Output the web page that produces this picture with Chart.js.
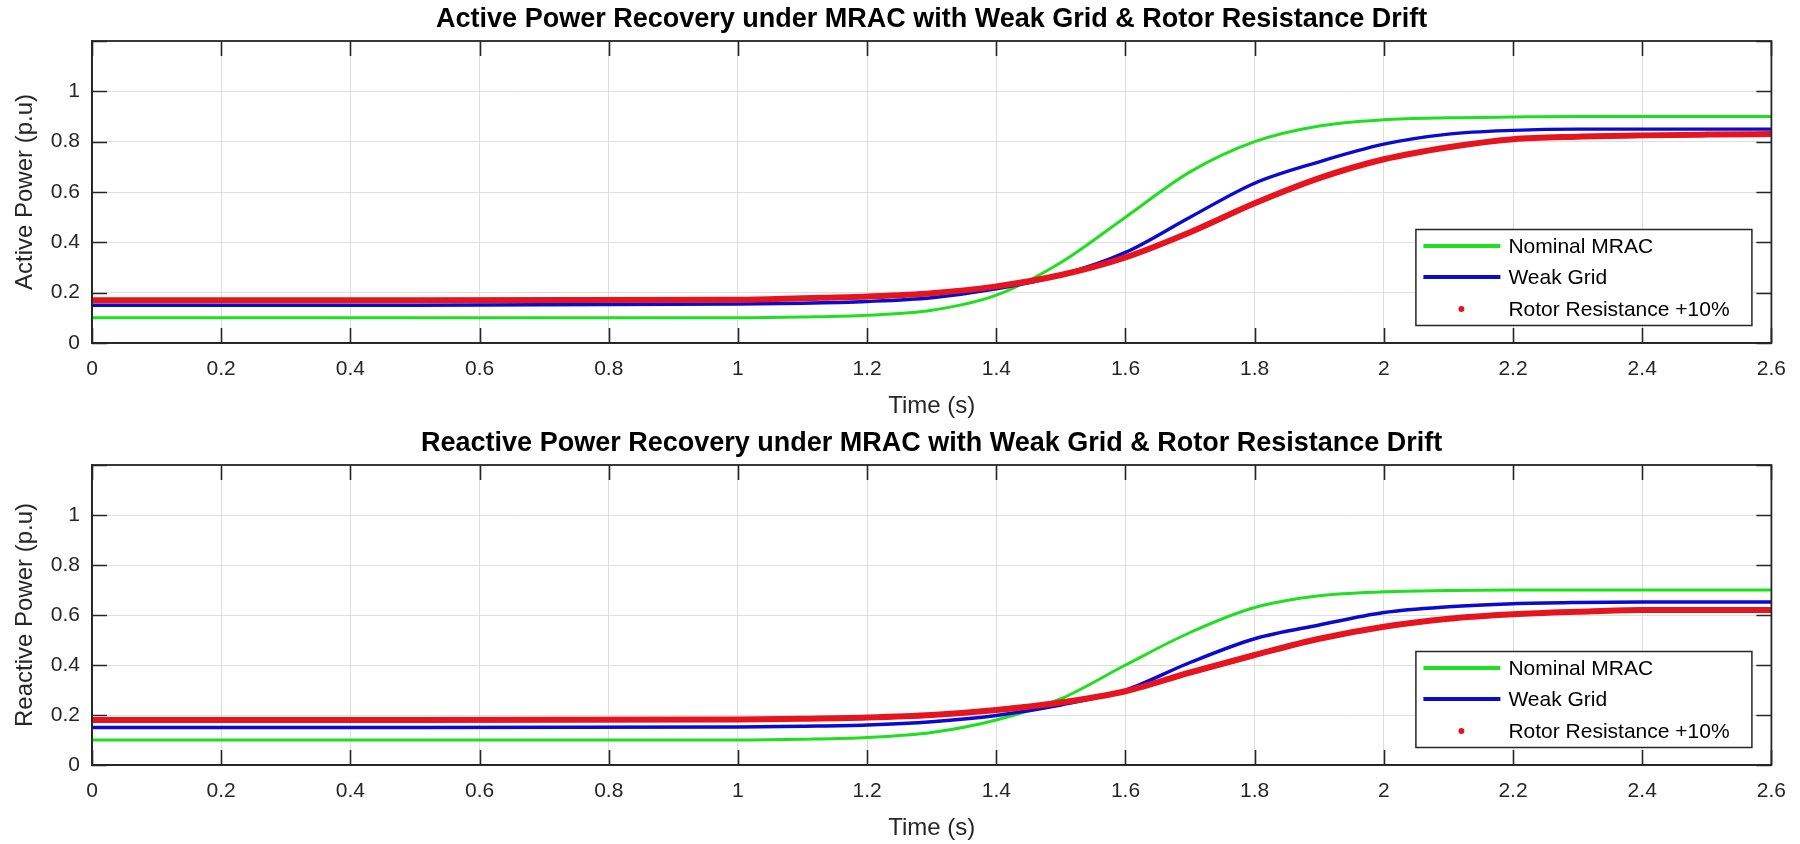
<!DOCTYPE html>
<html>
<head>
<meta charset="utf-8">
<script src="https://cdn.jsdelivr.net/npm/chart.js@4.4.1/dist/chart.umd.min.js"></script>
<style>
  html, body { margin: 0; padding: 0; background: #ffffff; }
  #wrap { position: relative; width: 1800px; height: 844px; background: #ffffff; }
  canvas { position: absolute; left: 0; }
</style>
</head>
<body>
<div id="wrap">
  <canvas id="c1" width="1800" height="422" style="top:0px"></canvas>
  <canvas id="c2" width="1800" height="422" style="top:422px"></canvas>
</div>
<script>
// ---------------- data ----------------
const timeValues = [0, 0.5, 1.0, 1.1, 1.2, 1.3, 1.4, 1.5, 1.6, 1.7, 1.8, 1.9, 2.0, 2.1, 2.2, 2.3, 2.4, 2.5, 2.6];

const activeNominal = [0.10, 0.10, 0.10, 0.103, 0.11, 0.13, 0.19, 0.32, 0.50, 0.68, 0.80, 0.862, 0.887, 0.895, 0.898, 0.90, 0.90, 0.90, 0.90];
const activeWeak    = [0.15, 0.15, 0.155, 0.158, 0.165, 0.18, 0.215, 0.27, 0.36, 0.50, 0.635, 0.72, 0.79, 0.83, 0.845, 0.85, 0.85, 0.85, 0.85];
const activeRotor   = [0.17, 0.17, 0.172, 0.178, 0.185, 0.198, 0.225, 0.27, 0.34, 0.44, 0.555, 0.655, 0.73, 0.778, 0.81, 0.82, 0.825, 0.828, 0.83];

const reactiveNominal = [0.10, 0.10, 0.10, 0.103, 0.11, 0.13, 0.18, 0.265, 0.40, 0.53, 0.63, 0.677, 0.693, 0.698, 0.70, 0.70, 0.70, 0.70, 0.70];
const reactiveWeak    = [0.15, 0.15, 0.152, 0.155, 0.16, 0.173, 0.198, 0.24, 0.30, 0.41, 0.505, 0.56, 0.61, 0.633, 0.645, 0.65, 0.652, 0.652, 0.652];
const reactiveRotor   = [0.18, 0.18, 0.182, 0.185, 0.19, 0.20, 0.22, 0.25, 0.295, 0.37, 0.44, 0.505, 0.553, 0.585, 0.603, 0.613, 0.62, 0.62, 0.62];

const seriesNames = ['Nominal MRAC', 'Weak Grid', 'Rotor Resistance +10%'];
const xTickLabels = ['0', '0.2', '0.4', '0.6', '0.8', '1', '1.2', '1.4', '1.6', '1.8', '2', '2.2', '2.4', '2.6'];
const yTickLabels = ['0', '0.2', '0.4', '0.6', '0.8', '1', ''];

const chartTitles = [
  'Active Power Recovery under MRAC with Weak Grid & Rotor Resistance Drift',
  'Reactive Power Recovery under MRAC with Weak Grid & Rotor Resistance Drift'
];
const yAxisTitles = ['Active Power (p.u)', 'Reactive Power (p.u)'];
const xAxisTitle = 'Time (s)';

// ---------------- styling ----------------
const FONT = "'Liberation Sans', Arial, Helvetica, sans-serif";
const AXIS_COLOR = '#262626';
const GRID_COLOR = '#dedede';
const seriesColors = ['#1fe01f', '#0a0ad0', '#e5141e'];
const seriesWidths = [3, 3.4, 6];
const legendWidths = [4, 4, 0];

Chart.defaults.font.family = FONT;
Chart.defaults.color = AXIS_COLOR;

function toPoints(arr) { return timeValues.map((t, i) => ({ x: t, y: arr[i] })); }

// inward tick marks + full box
const boxTicksPlugin = {
  id: 'boxTicks',
  afterDraw(chart) {
    const { ctx, chartArea: a } = chart;
    const xs = chart.scales.x, ys = chart.scales.y;
    const L = 15;
    ctx.save();
    ctx.strokeStyle = AXIS_COLOR;
    ctx.lineWidth = 1.6;
    ctx.beginPath();
    xs.ticks.forEach(t => {
      const px = Math.round(xs.getPixelForValue(t.value)) + 0.5;
      ctx.moveTo(px, a.bottom); ctx.lineTo(px, a.bottom - L);
      ctx.moveTo(px, a.top); ctx.lineTo(px, a.top + L);
    });
    ys.ticks.forEach(t => {
      const py = Math.round(ys.getPixelForValue(t.value)) + 0.5;
      ctx.moveTo(a.left, py); ctx.lineTo(a.left + L, py);
      ctx.moveTo(a.right, py); ctx.lineTo(a.right - L, py);
    });
    ctx.stroke();
    ctx.lineWidth = 1.8;
    ctx.strokeRect(a.left, a.top, a.right - a.left, a.bottom - a.top);
    ctx.restore();
  }
};

// MATLAB-like legend box (lower right, inside axes)
const legendPlugin = {
  id: 'mLegend',
  afterDraw(chart) {
    const { ctx, chartArea: a } = chart;
    const w = 336, h = 96;
    const x0 = a.right - 20 - w, y0 = a.bottom - 18 - h;
    ctx.save();
    ctx.fillStyle = '#ffffff';
    ctx.fillRect(x0, y0, w, h);
    ctx.strokeStyle = AXIS_COLOR;
    ctx.lineWidth = 1.5;
    ctx.strokeRect(x0 + 0.5, y0 + 0.5, w, h);
    const rows = [17, 48, 80];
    chart.data.datasets.forEach((ds, i) => {
      const y = y0 + rows[i];
      if (ds.legendMarker === 'dot') {
        ctx.fillStyle = ds.borderColor;
        ctx.beginPath();
        ctx.arc(x0 + 46, y, 3, 0, Math.PI * 2);
        ctx.fill();
      } else {
        ctx.strokeStyle = ds.borderColor;
        ctx.lineWidth = legendWidths[i];
        ctx.beginPath();
        ctx.moveTo(x0 + 8, y);
        ctx.lineTo(x0 + 85, y);
        ctx.stroke();
      }
      ctx.fillStyle = '#000000';
      ctx.font = '21px ' + FONT;
      ctx.textBaseline = 'middle';
      ctx.textAlign = 'left';
      ctx.fillText(ds.label, x0 + 93, y + 1);
    });
    ctx.restore();
  }
};

function makeChart(canvasId, idx, seriesArrays, topPad) {
  const datasets = seriesArrays.map((arr, i) => ({
    label: seriesNames[i],
    data: toPoints(arr),
    borderColor: seriesColors[i],
    backgroundColor: seriesColors[i],
    borderWidth: seriesWidths[i],
    pointRadius: 0,
    pointHoverRadius: 0,
    fill: false,
    cubicInterpolationMode: 'monotone',
    order: 2 - i,
    legendMarker: i === 2 ? 'dot' : 'line'
  }));
  return new Chart(document.getElementById(canvasId), {
    type: 'line',
    data: { datasets },
    plugins: [boxTicksPlugin, legendPlugin],
    options: {
      responsive: false,
      animation: false,
      devicePixelRatio: 1,
      layout: { padding: { left: 0, right: 27, top: topPad, bottom: 0 } },
      plugins: {
        legend: { display: false },
        tooltip: { enabled: false },
        title: {
          display: true,
          fullSize: false,
          text: chartTitles[idx],
          color: '#000000',
          font: { size: 27, weight: 'bold', family: FONT, lineHeight: 1.2 },
          padding: { top: 3, bottom: 5.6 }
        }
      },
      scales: {
        x: {
          type: 'linear',
          min: 0, max: 2.6,
          afterFit: s => { s.height = 79; },
          grid: { color: GRID_COLOR, lineWidth: 1, drawTicks: false },
          border: { display: true, color: AXIS_COLOR, width: 1.8 },
          ticks: {
            stepSize: 0.2,
            autoSkip: false,
            maxRotation: 0,
            padding: 14,
            color: AXIS_COLOR,
            font: { size: 21, family: FONT },
            callback: (v, i) => xTickLabels[i]
          },
          title: {
            display: true,
            text: xAxisTitle,
            color: AXIS_COLOR,
            font: { size: 24, family: FONT, lineHeight: 1.2 },
            padding: { top: 0, bottom: 1 }
          }
        },
        y: {
          type: 'linear',
          min: 0, max: 1.2,
          afterFit: s => { s.width = 92; },
          grid: { color: GRID_COLOR, lineWidth: 1, drawTicks: false },
          border: { display: true, color: AXIS_COLOR, width: 1.8 },
          ticks: {
            stepSize: 0.2,
            autoSkip: false,
            padding: 12,
            color: AXIS_COLOR,
            font: { size: 21, family: FONT },
            callback: (v, i) => yTickLabels[i]
          },
          title: {
            display: true,
            text: yAxisTitles[idx],
            color: AXIS_COLOR,
            font: { size: 24, family: FONT, lineHeight: 1.2 },
            padding: { top: 11, bottom: 0 }
          }
        }
      }
    }
  });
}

makeChart('c1', 0, [activeNominal, activeWeak, activeRotor], 0);
makeChart('c2', 1, [reactiveNominal, reactiveWeak, reactiveRotor], 2);
</script>
</body>
</html>
